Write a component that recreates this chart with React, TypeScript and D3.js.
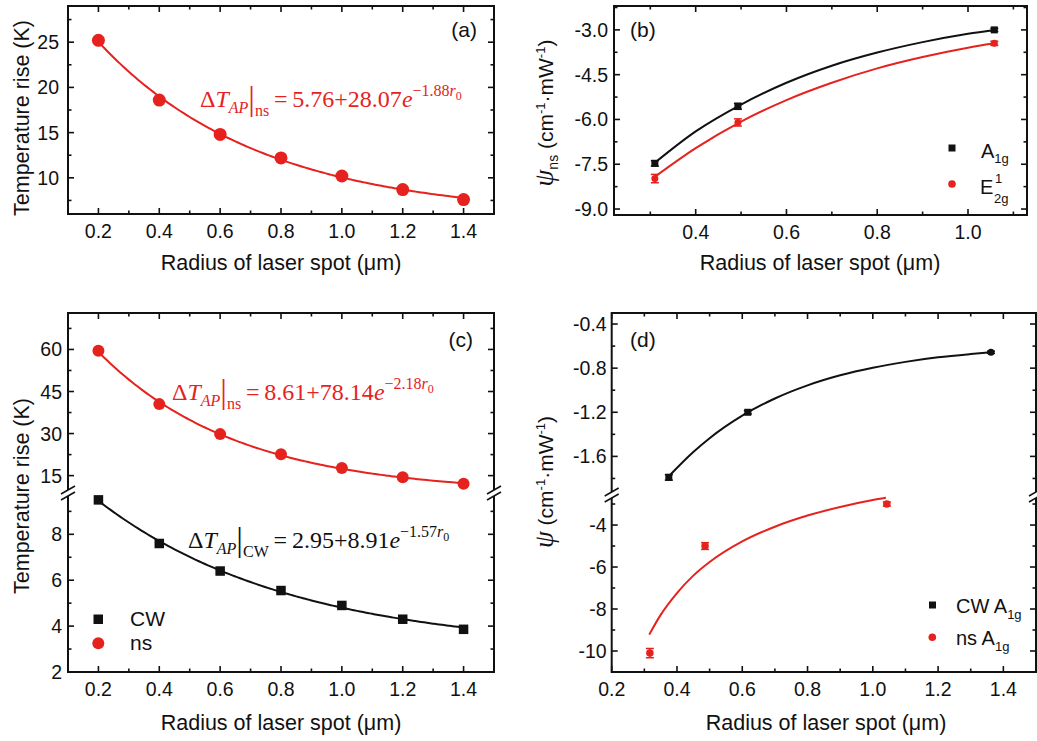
import React from "react";
import * as d3 from "d3";

const RED = "#e5221e";
const INK = "#111";
const SANS = "'Liberation Sans', Arial, Helvetica, sans-serif";
const SERIF = "'Liberation Serif', 'Times New Roman', serif";

// ---------- (a) temperature rise under ns pulses ----------
const radiusA = [0.2, 0.4, 0.6, 0.8, 1.0, 1.2, 1.4];
const riseNsA = [25.2, 18.6, 14.8, 12.2, 10.2, 8.7, 7.6];
const fitNsA = [5.76, 28.07, 1.88]; // offset, amplitude, decay

// ---------- (b) psi_ns for the two Raman modes ----------
const radiusB = [0.31, 0.493, 1.058];
const psiA1gB = [-7.47, -5.56, -3.0];
const errA1gB = [0.09, 0.1, 0.05];
const psiE2gB = [-7.98, -6.1, -3.45];
const errE2gB = [0.14, 0.12, 0.07];
const fitRadiusB = [0.31, 0.4, 0.5, 0.6, 0.7, 0.8, 0.9, 1.0, 1.058];
const fitA1gB = [-7.45, -6.4, -5.5, -4.77, -4.2, -3.76, -3.41, -3.13, -3.0];
const fitE2gB = [-7.92, -6.96, -6.07, -5.35, -4.77, -4.29, -3.91, -3.6, -3.45];

// ---------- (c) temperature rise, CW vs ns ----------
const radiusC = [0.2, 0.4, 0.6, 0.8, 1.0, 1.2, 1.4];
const riseNsC = [59.5, 40.5, 29.8, 22.6, 17.7, 14.4, 12.1];
const riseCwC = [9.5, 7.6, 6.4, 5.55, 4.9, 4.3, 3.86];
const fitNsC = [8.61, 78.14, 2.18];
const fitCwC = [2.95, 8.91, 1.57];

// ---------- (d) psi for CW and ns excitation ----------
const radiusCwD = [0.375, 0.617, 1.362];
const psiCwD = [-1.79, -1.2, -0.656];
const errCwD = [0.025, 0.015, 0.01];
const radiusNsD = [0.317, 0.486, 1.043];
const psiNsD = [-10.1, -5.0, -3.0];
const errNsD = [0.22, 0.16, 0.1];
const fitRadiusCwD = [0.375, 0.45, 0.5, 0.6, 0.7, 0.8, 0.9, 1.0, 1.1, 1.2, 1.3, 1.362];
const fitCwD = [-1.78, -1.56, -1.435, -1.231, -1.075, -0.956, -0.865, -0.796, -0.743, -0.702, -0.672, -0.656];
const fitRadiusNsD = [0.315, 0.35, 0.4, 0.45, 0.5, 0.6, 0.7, 0.8, 0.9, 1.0, 1.04];
const fitNsD = [-9.22, -8.28, -7.24, -6.41, -5.76, -4.78, -4.08, -3.55, -3.14, -2.81, -2.7];

// ---------- axis ticks ----------
const radiusTicks = [0.2, 0.4, 0.6, 0.8, 1.0, 1.2, 1.4];
const radiusMinor = [0.1, 0.3, 0.5, 0.7, 0.9, 1.1, 1.3, 1.5];
const radiusTicksB = [0.4, 0.6, 0.8, 1.0];
const radiusMinorB = [0.3, 0.5, 0.7, 0.9, 1.1];
const riseTicksA = [10, 15, 20, 25];
const riseMinorA = [7.5, 12.5, 17.5, 22.5, 27.5];
const psiTicksB = [-9, -7.5, -6, -4.5, -3];
const psiMinorB = [-8.25, -6.75, -5.25, -3.75, -2.25];
const riseTicksCHigh = [15, 30, 45, 60];
const riseMinorCHigh = [22.5, 37.5, 52.5, 67.5];
const riseTicksCLow = [2, 4, 6, 8];
const riseMinorCLow = [3, 5, 7, 9];
const psiTicksDHigh = [-1.6, -1.2, -0.8, -0.4];
const psiMinorDHigh = [-1.8, -1.4, -1.0, -0.6];
const psiTicksDLow = [-10, -8, -6, -4];
const psiMinorDLow = [-9, -7, -5, -3];

const X_TITLE = "Radius of laser spot (\u03bcm)";

type Scale = d3.ScaleLinear<number, number>;
type YSeg = { scale: Scale; major: number[]; minor: number[]; fmt: (v: number) => string };

function Frame(props: {
  x0: number; x1: number; y0: number; y1: number;
  xs: Scale; xMajor: number[]; xMinor: number[];
  segs: YSeg[]; breakY?: number; gap: number;
}) {
  const { x0, x1, y0, y1, xs, xMajor, xMinor, segs, breakY, gap } = props;
  const MAJ = 6, MIN = 3.5;
  const out: React.ReactNode[] = [];
  const inX = (p: number) => p > x0 + 1 && p < x1 - 1;
  xMajor.forEach((v, i) => {
    const p = xs(v);
    out.push(<line key={`xM${i}`} x1={p} x2={p} y1={y1} y2={y1 - MAJ} />);
    out.push(<line key={`xMt${i}`} x1={p} x2={p} y1={y0} y2={y0 + MAJ} />);
    out.push(
      <text key={`xl${i}`} x={p} y={y1 + 24} textAnchor="middle" stroke="none" fill={INK} fontSize={19.5}>
        {v.toFixed(1)}
      </text>
    );
  });
  xMinor.forEach((v, i) => {
    const p = xs(v);
    if (!inX(p)) return;
    out.push(<line key={`xm${i}`} x1={p} x2={p} y1={y1} y2={y1 - MIN} />);
    out.push(<line key={`xmt${i}`} x1={p} x2={p} y1={y0} y2={y0 + MIN} />);
  });
  segs.forEach((s, k) => {
    const [ra, rb] = s.scale.range();
    const lo = Math.min(ra, rb), hi = Math.max(ra, rb);
    const inY = (p: number) => p > lo + 1 && p < hi - 1;
    s.major.forEach((v, i) => {
      const p = s.scale(v);
      out.push(<line key={`yM${k}${i}`} x1={x0} x2={x0 + MAJ} y1={p} y2={p} />);
      out.push(<line key={`yMr${k}${i}`} x1={x1} x2={x1 - MAJ} y1={p} y2={p} />);
      out.push(
        <text key={`yl${k}${i}`} x={x0 - gap} y={p} dy="0.36em" textAnchor="end" stroke="none" fill={INK} fontSize={19.5}>
          {s.fmt(v)}
        </text>
      );
    });
    s.minor.forEach((v, i) => {
      const p = s.scale(v);
      if (!inY(p)) return;
      out.push(<line key={`ym${k}${i}`} x1={x0} x2={x0 + MIN} y1={p} y2={p} />);
      out.push(<line key={`ymr${k}${i}`} x1={x1} x2={x1 - MIN} y1={p} y2={p} />);
    });
  });
  const brk: React.ReactNode[] = [];
  if (breakY !== undefined) {
    [x0, x1].forEach((bx, i) => {
      brk.push(<rect key={`br${i}`} x={bx - 3} y={breakY - 3} width={6} height={6} fill="#fff" stroke="none" />);
      brk.push(<line key={`bs${i}a`} x1={bx - 7} y1={breakY + 1} x2={bx + 7} y2={breakY - 7} />);
      brk.push(<line key={`bs${i}b`} x1={bx - 7} y1={breakY + 7} x2={bx + 7} y2={breakY - 1} />);
    });
  }
  return (
    <g stroke={INK} strokeWidth={1.6} fontFamily={SANS}>
      {out}
      <rect x={x0} y={y0} width={x1 - x0} height={y1 - y0} fill="none" strokeWidth={2} />
      <g strokeWidth={1.5}>{brk}</g>
    </g>
  );
}

function FitFormula(props: { x: number; y: number; color: string; sub: string; fit: number[] }) {
  const { x, y, color, sub, fit } = props;
  return (
    <text x={x} y={y} fill={color} fontFamily={SERIF} fontSize={24}>
      <tspan>{"\u0394"}</tspan>
      <tspan fontStyle="italic">T</tspan>
      <tspan fontStyle="italic" fontSize={16} dy={6}>AP</tspan>
      <tspan fontSize={33} dy={-3}>|</tspan>
      <tspan fontSize={16} dy={6}>{sub}</tspan>
      <tspan dy={-9}>{`\u2009=\u2009${fit[0].toFixed(2)}+${fit[1].toFixed(2)}`}</tspan>
      <tspan fontStyle="italic">e</tspan>
      <tspan fontSize={16} dy={-11}>{`\u2212${fit[2].toFixed(2)}`}</tspan>
      <tspan fontSize={16} fontStyle="italic">r</tspan>
      <tspan fontSize={12} dy={4}>0</tspan>
    </text>
  );
}

function ErrPoint(props: { x: number; y: number; ylo: number; yhi: number; color: string; shape: "sq" | "ci"; size: number }) {
  const { x, y, ylo, yhi, color, shape, size } = props;
  return (
    <g stroke={color} fill={color}>
      <line x1={x} x2={x} y1={ylo} y2={yhi} strokeWidth={1.5} />
      <line x1={x - 4} x2={x + 4} y1={ylo} y2={ylo} strokeWidth={1.5} />
      <line x1={x - 4} x2={x + 4} y1={yhi} y2={yhi} strokeWidth={1.5} />
      {shape === "sq" ? (
        <rect x={x - size / 2} y={y - size / 2} width={size} height={size} stroke="none" />
      ) : (
        <circle cx={x} cy={y} r={size / 2} stroke="none" />
      )}
    </g>
  );
}

function PsiTitle(props: { x: number; y: number; sub?: string }) {
  const { x, y, sub } = props;
  return (
    <text transform={`translate(${x},${y}) rotate(-90)`} textAnchor="middle" fontFamily={SANS} fontSize={21} fill={INK}>
      <tspan fontFamily={SERIF} fontStyle="italic" fontSize={27}>{"\u03c8"}</tspan>
      {sub ? <tspan fontSize={14} dy={5}>{sub}</tspan> : null}
      <tspan dy={sub ? -5 : 0}>{" (cm"}</tspan>
      <tspan fontSize={13} dy={-8}>-1</tspan>
      <tspan dy={8}>{"\u00b7mW"}</tspan>
      <tspan fontSize={13} dy={-8}>-1</tspan>
      <tspan dy={8}>)</tspan>
    </text>
  );
}

export default function App() {
  const curve = d3.line<[number, number]>().curve(d3.curveMonotoneX);
  const expFit = (f: number[]) => (r: number) => f[0] + f[1] * Math.exp(-f[2] * r);
  const fitGrid = d3.range(0.2, 1.4001, 0.01);

  // ---- panel (a)
  const xa = d3.scaleLinear().domain([0.1, 1.5]).range([68, 494]);
  const ya = d3.scaleLinear().domain([6, 29]).range([214, 6]);
  const fa = expFit(fitNsA);
  const pathA = curve(fitGrid.map((r) => [xa(r), ya(fa(r))] as [number, number]));

  // ---- panel (b)
  const xb = d3.scaleLinear().domain([0.22, 1.13]).range([614, 1027]);
  const yb = d3.scaleLinear().domain([-9.2, -2.2]).range([215, 6]);
  const pathB1 = curve(fitRadiusB.map((r, i) => [xb(r), yb(fitA1gB[i])] as [number, number]));
  const pathB2 = curve(fitRadiusB.map((r, i) => [xb(r), yb(fitE2gB[i])] as [number, number]));

  // ---- panel (c), broken y axis
  const xc = d3.scaleLinear().domain([0.1, 1.5]).range([68, 494]);
  const ycHigh = d3.scaleLinear().domain([8.8, 73]).range([493, 313]);
  const ycLow = d3.scaleLinear().domain([2, 9.8]).range([672, 493]);
  const fcN = expFit(fitNsC);
  const fcC = expFit(fitCwC);
  const pathCN = curve(fitGrid.map((r) => [xc(r), ycHigh(fcN(r))] as [number, number]));
  const pathCC = curve(fitGrid.map((r) => [xc(r), ycLow(fcC(r))] as [number, number]));

  // ---- panel (d), broken y axis
  const xd = d3.scaleLinear().domain([0.2, 1.5]).range([611.7, 1036]);
  const ydHigh = d3.scaleLinear().domain([-1.95, -0.3]).range([495, 313]);
  const ydLow = d3.scaleLinear().domain([-11, -2.57]).range([672, 495]);
  const pathDC = curve(fitRadiusCwD.map((r, i) => [xd(r), ydHigh(fitCwD[i])] as [number, number]));
  const pathDN = curve(fitRadiusNsD.map((r, i) => [xd(r), ydLow(fitNsD[i])] as [number, number]));

  const f0 = (v: number) => v.toFixed(0);
  const f1 = (v: number) => v.toFixed(1);

  return (
    <svg width={1037} height={741} style={{ position: "absolute", left: 0, top: 0, background: "#fff" }} fontFamily={SANS}>
      <rect width={1037} height={741} fill="#fff" />

      {/* (a) */}
      <Frame x0={68} x1={494} y0={6} y1={214} xs={xa} xMajor={radiusTicks} xMinor={radiusMinor}
        segs={[{ scale: ya, major: riseTicksA, minor: riseMinorA, fmt: f0 }]} gap={9} />
      <path d={pathA || ""} fill="none" stroke={RED} strokeWidth={2} />
      {radiusA.map((r, i) => <circle key={i} cx={xa(r)} cy={ya(riseNsA[i])} r={6.5} fill={RED} />)}
      <FitFormula x={200} y={107} color={RED} sub="ns" fit={fitNsA} />
      <text x={477} y={37} textAnchor="end" fontSize={21} fill={INK}>(a)</text>
      <text transform="translate(29,118) rotate(-90)" textAnchor="middle" fontSize={21.5} fill={INK}>Temperature rise (K)</text>
      <text x={281} y={270} textAnchor="middle" fontSize={21.5} fill={INK}>{X_TITLE}</text>

      {/* (b) */}
      <Frame x0={614} x1={1027} y0={6} y1={215} xs={xb} xMajor={radiusTicksB} xMinor={radiusMinorB}
        segs={[{ scale: yb, major: psiTicksB, minor: psiMinorB, fmt: f1 }]} gap={6} />
      <path d={pathB1 || ""} fill="none" stroke={INK} strokeWidth={2} />
      <path d={pathB2 || ""} fill="none" stroke={RED} strokeWidth={2} />
      {radiusB.map((r, i) => (
        <ErrPoint key={`ba${i}`} x={xb(r)} y={yb(psiA1gB[i])} ylo={yb(psiA1gB[i] - errA1gB[i])} yhi={yb(psiA1gB[i] + errA1gB[i])}
          color={INK} shape="sq" size={7} />
      ))}
      {radiusB.map((r, i) => (
        <ErrPoint key={`be${i}`} x={xb(r)} y={yb(psiE2gB[i])} ylo={yb(psiE2gB[i] - errE2gB[i])} yhi={yb(psiE2gB[i] + errE2gB[i])}
          color={RED} shape="ci" size={7} />
      ))}
      <text x={630} y={37} fontSize={21} fill={INK}>(b)</text>
      <rect x={948.5} y={144.5} width={7} height={7} fill={INK} />
      <text x={981} y={158} fontSize={20} fill={INK}>A<tspan fontSize={13} dy={5}>1g</tspan></text>
      <circle cx={952} cy={184} r={3.8} fill={RED} />
      <text x={980} y={194} fontSize={20} fill={INK}>E</text>
      <text x={995} y={183} fontSize={13} fill={INK}>1</text>
      <text x={994} y={203} fontSize={13} fill={INK}>2g</text>
      <PsiTitle x={553} y={113} sub="ns" />
      <text x={820} y={270} textAnchor="middle" fontSize={21.5} fill={INK}>{X_TITLE}</text>

      {/* (c) */}
      <Frame x0={68} x1={494} y0={313} y1={672} xs={xc} xMajor={radiusTicks} xMinor={radiusMinor}
        segs={[
          { scale: ycHigh, major: riseTicksCHigh, minor: riseMinorCHigh, fmt: f0 },
          { scale: ycLow, major: riseTicksCLow, minor: riseMinorCLow, fmt: f0 },
        ]} breakY={493} gap={6} />
      <path d={pathCN || ""} fill="none" stroke={RED} strokeWidth={2} />
      <path d={pathCC || ""} fill="none" stroke={INK} strokeWidth={2} />
      {radiusC.map((r, i) => <circle key={`cn${i}`} cx={xc(r)} cy={ycHigh(riseNsC[i])} r={6} fill={RED} />)}
      {radiusC.map((r, i) => (
        <rect key={`cc${i}`} x={xc(r) - 4.75} y={ycLow(riseCwC[i]) - 4.75} width={9.5} height={9.5} fill={INK} />
      ))}
      <FitFormula x={172} y={400} color={RED} sub="ns" fit={fitNsC} />
      <FitFormula x={188} y={548} color={INK} sub="CW" fit={fitCwC} />
      <text x={473} y={347} textAnchor="end" fontSize={21} fill={INK}>(c)</text>
      <rect x={93.5} y={614.5} width={9.5} height={9.5} fill={INK} />
      <text x={130} y={626} fontSize={21} fill={INK}>CW</text>
      <circle cx={98.3} cy={643.3} r={6} fill={RED} />
      <text x={130} y={650} fontSize={21} fill={INK}>ns</text>
      <text transform="translate(29,496) rotate(-90)" textAnchor="middle" fontSize={21.5} fill={INK}>Temperature rise (K)</text>
      <text x={281} y={730} textAnchor="middle" fontSize={21.5} fill={INK}>{X_TITLE}</text>

      {/* (d) */}
      <Frame x0={611.7} x1={1036} y0={313} y1={672} xs={xd} xMajor={radiusTicks} xMinor={radiusMinor}
        segs={[
          { scale: ydHigh, major: psiTicksDHigh, minor: psiMinorDHigh, fmt: f1 },
          { scale: ydLow, major: psiTicksDLow, minor: psiMinorDLow, fmt: f0 },
        ]} breakY={495} gap={5} />
      <path d={pathDC || ""} fill="none" stroke={INK} strokeWidth={2} />
      <path d={pathDN || ""} fill="none" stroke={RED} strokeWidth={2} />
      {radiusCwD.map((r, i) => (
        <ErrPoint key={`dc${i}`} x={xd(r)} y={ydHigh(psiCwD[i])} ylo={ydHigh(psiCwD[i] - errCwD[i])} yhi={ydHigh(psiCwD[i] + errCwD[i])}
          color={INK} shape={i === 2 ? "ci" : "sq"} size={7} />
      ))}
      {radiusNsD.map((r, i) => (
        <ErrPoint key={`dn${i}`} x={xd(r)} y={ydLow(psiNsD[i])} ylo={ydLow(psiNsD[i] - errNsD[i])} yhi={ydLow(psiNsD[i] + errNsD[i])}
          color={RED} shape="ci" size={7.5} />
      ))}
      <text x={630} y={347} fontSize={21} fill={INK}>(d)</text>
      <rect x={929} y={601.5} width={7} height={7} fill={INK} />
      <text x={956} y={613} fontSize={20} fill={INK}>CW A<tspan fontSize={13} dy={6}>1g</tspan></text>
      <circle cx={932.3} cy={637.3} r={3.8} fill={RED} />
      <text x={956} y={645} fontSize={20} fill={INK}>ns A<tspan fontSize={13} dy={6}>1g</tspan></text>
      <PsiTitle x={553} y={482} />
      <text x={826} y={730} textAnchor="middle" fontSize={21.5} fill={INK}>{X_TITLE}</text>
    </svg>
  );
}
